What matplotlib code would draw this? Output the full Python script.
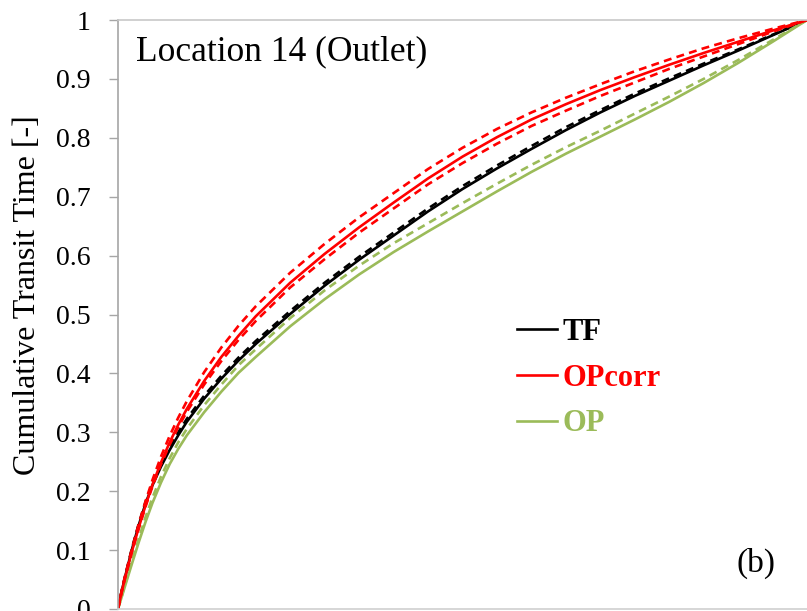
import matplotlib
matplotlib.use("Agg")
import matplotlib.pyplot as plt
from matplotlib.lines import Line2D

plt.rcParams['font.family'] = ['Liberation Serif', 'DejaVu Serif']

# normalised position along the domain
x = [0, 0.005, 0.01, 0.02, 0.03, 0.04, 0.05, 0.0625, 0.075, 0.0875, 0.1,
     0.125, 0.15, 0.175, 0.2, 0.25, 0.3, 0.35, 0.4, 0.45, 0.5,
     0.55, 0.6, 0.65, 0.7, 0.75, 0.8, 0.85, 0.9, 0.95, 1.0]

# TF
tf = [0, 0.028, 0.053, 0.100, 0.142, 0.179, 0.210, 0.242, 0.270, 0.295, 0.318,
      0.357, 0.391, 0.422, 0.450, 0.501, 0.549, 0.593, 0.634, 0.675, 0.713,
      0.748, 0.781, 0.813, 0.843, 0.871, 0.897, 0.923, 0.948, 0.974, 1.0]
tf_band = [0, 0.029, 0.054, 0.102, 0.144, 0.182, 0.213, 0.246, 0.274, 0.300, 0.323,
           0.362, 0.396, 0.427, 0.455, 0.506, 0.554, 0.598, 0.639, 0.680, 0.718,
           0.753, 0.786, 0.818, 0.847, 0.875, 0.901, 0.926, 0.950, 0.975, 1.0]

# OPcorr with upper / lower bounds
opcorr = [0, 0.027, 0.052, 0.097, 0.138, 0.176, 0.211, 0.249, 0.283, 0.313, 0.340,
          0.387, 0.428, 0.464, 0.497, 0.554, 0.603, 0.648, 0.690, 0.731, 0.768,
          0.801, 0.831, 0.857, 0.881, 0.903, 0.924, 0.944, 0.963, 0.982, 1.0]
opcorr_hi = [0, 0.029, 0.055, 0.101, 0.144, 0.183, 0.219, 0.259, 0.294, 0.325, 0.353,
             0.402, 0.444, 0.481, 0.514, 0.571, 0.620, 0.665, 0.706, 0.747, 0.783,
             0.815, 0.843, 0.868, 0.891, 0.913, 0.933, 0.952, 0.969, 0.985, 1.0]
opcorr_lo = [0, 0.027, 0.051, 0.096, 0.136, 0.174, 0.208, 0.246, 0.279, 0.309, 0.335,
             0.381, 0.421, 0.457, 0.489, 0.546, 0.594, 0.639, 0.680, 0.721, 0.757,
             0.790, 0.820, 0.846, 0.871, 0.894, 0.917, 0.938, 0.959, 0.980, 1.0]

# OP
op = [0, 0.019, 0.038, 0.076, 0.113, 0.148, 0.180, 0.215, 0.246, 0.272, 0.295,
      0.334, 0.369, 0.401, 0.428, 0.480, 0.526, 0.568, 0.606, 0.641, 0.675,
      0.709, 0.742, 0.773, 0.802, 0.831, 0.861, 0.893, 0.927, 0.963, 1.0]
op_band = [0, 0.020, 0.041, 0.081, 0.119, 0.156, 0.189, 0.225, 0.256, 0.283, 0.306,
           0.346, 0.381, 0.414, 0.441, 0.494, 0.541, 0.583, 0.621, 0.655, 0.689,
           0.722, 0.754, 0.784, 0.812, 0.841, 0.870, 0.900, 0.932, 0.966, 1.0]

yticks = [0, 0.1, 0.2, 0.3, 0.4, 0.5, 0.6, 0.7, 0.8, 0.9, 1]
ytick_labels = ['0', '0.1', '0.2', '0.3', '0.4', '0.5', '0.6', '0.7', '0.8', '0.9', '1']

black = '#000000'
red = '#FF0000'
green = '#9BBB59'
lw = 1.9
dash = (3, 2)

fig = plt.figure(figsize=(8.07, 6.11), dpi=100)
ax = fig.add_axes([118 / 807, 2 / 611, 1 - 118 / 807, 589 / 611])

ax.plot(x, tf, color=black, lw=lw)
ax.plot(x, tf_band, color=black, lw=lw, dashes=dash)
ax.plot(x, op, color=green, lw=lw)
ax.plot(x, op_band, color=green, lw=lw, dashes=dash)
ax.plot(x, opcorr, color=red, lw=lw)
ax.plot(x, opcorr_hi, color=red, lw=lw, dashes=dash)
ax.plot(x, opcorr_lo, color=red, lw=lw, dashes=dash)

ax.set_xlim(0, 1)
ax.set_ylim(0, 1)
ax.set_xticks([])
ax.set_yticks(yticks)
ax.set_yticklabels(ytick_labels)
ax.tick_params(axis='y', direction='out', length=6.5, width=1, color='#A6A6A6',
               pad=13, labelsize=20)

ax.spines['right'].set_visible(False)
ax.spines['left'].set_color('#A6A6A6')
ax.spines['top'].set_color('#C8C8C8')
ax.spines['bottom'].set_color('#D0D0D0')
for s in ('left', 'top', 'bottom'):
    ax.spines[s].set_linewidth(1.2)

ax.set_ylabel('Cumulative Transit Time [-]', fontsize=23, va='center')
ax.yaxis.set_label_coords(-0.132, 0.533)

ax.text(0.026, 0.946, 'Location 14 (Outlet)', transform=ax.transAxes,
        fontsize=25.5, ha='left', va='center')
ax.text(0.926, 0.078, '(b)', transform=ax.transAxes,
        fontsize=24, ha='center', va='center')

handles = [Line2D([], [], color=black, lw=lw),
           Line2D([], [], color=red, lw=lw),
           Line2D([], [], color=green, lw=lw)]
leg = ax.legend(handles, ['TF', 'OPcorr', 'OP'], loc='center left',
                bbox_to_anchor=(0.579, 0.392), frameon=False, borderpad=0,
                borderaxespad=0, handlelength=1.3, handletextpad=0.2,
                labelspacing=0.55, prop={'size': 22, 'weight': 'bold'})
for txt, c in zip(leg.get_texts(), [black, red, green]):
    txt.set_color(c)

fig.savefig('out.png', dpi=100)
